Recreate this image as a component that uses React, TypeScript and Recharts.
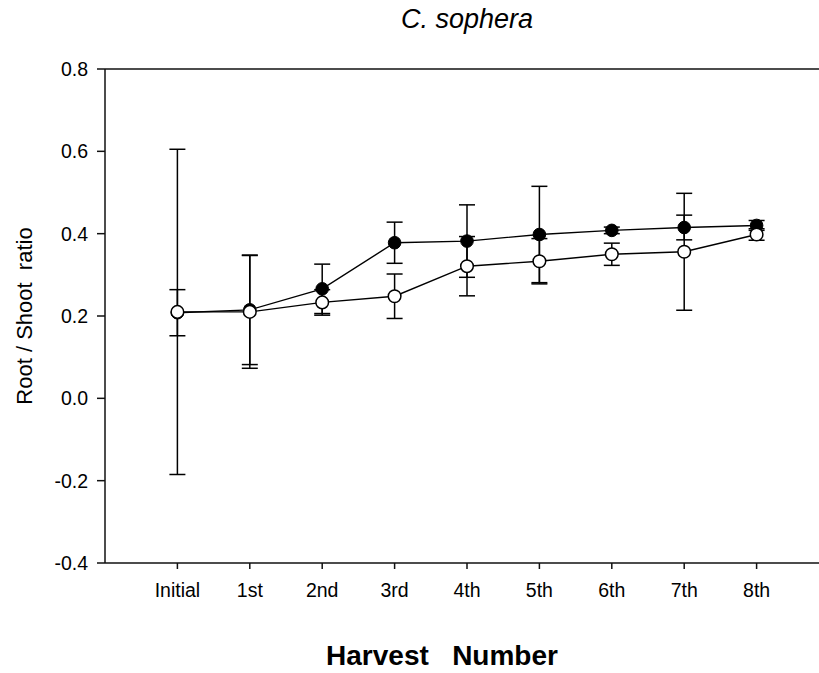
import {
  LineChart, Line, XAxis, YAxis, ErrorBar, ReferenceLine,
} from "recharts";

const harvestLabels = ["Initial", "1st", "2nd", "3rd", "4th", "5th", "6th", "7th", "8th"];
const filledMean = [0.208, 0.215, 0.266, 0.378, 0.382, 0.398, 0.408, 0.415, 0.42];
const filledErr = [0.056, 0.133, 0.06, 0.05, 0.088, 0.117, 0.008, 0.03, 0.012];
const openMean = [0.21, 0.21, 0.233, 0.248, 0.321, 0.333, 0.35, 0.356, 0.398];
const openErr = [0.395, 0.137, 0.031, 0.054, 0.072, 0.055, 0.027, 0.142, 0.014];
const yTicks = [-0.4, -0.2, 0, 0.2, 0.4, 0.6, 0.8];

const data = harvestLabels.map((h, i) => ({
  idx: i,
  harvest: h,
  filled: filledMean[i],
  filledErr: filledErr[i],
  open: openMean[i],
  openErr: openErr[i],
}));

const font = "Arial, 'Liberation Sans', sans-serif";
const ink = "#111";

// axis titles are drawn from the axis viewBox so they follow the plot area
function XTitle({ viewBox }: any) {
  const cx = viewBox.x + viewBox.width / 2 - 25;
  return (
    <text x={cx} y={viewBox.y + 102} textAnchor="middle"
      fontFamily={font} fontSize={28} fontWeight="bold" fill="#000">
      {"Harvest\u00a0\u00a0\u00a0Number"}
    </text>
  );
}

function YTitle({ viewBox }: any) {
  const cx = 24;
  const cy = viewBox.y + viewBox.height / 2;
  return (
    <text x={cx} y={cy} transform={`rotate(-90 ${cx} ${cy})`} textAnchor="middle"
      dominantBaseline="central" fontFamily={font} fontSize={22} fill="#000">
      {"Root / Shoot\u00a0\u00a0ratio"}
    </text>
  );
}

function ChartTitle({ viewBox }: any) {
  return (
    <text x={viewBox.x + viewBox.width / 2} y={28} textAnchor="middle"
      fontFamily={font} fontSize={27} fontStyle="italic" fill="#000">
      C. sophera
    </text>
  );
}

const tickStyle = { fontFamily: font, fontSize: 19.5, fill: "#000" };

export default function App() {
  return (
    <div style={{ position: "absolute", left: 0, top: 0, width: 819, height: 673, overflow: "hidden", background: "#fff" }}>
      <LineChart width={840} height={673} data={data} margin={{ top: 69, right: 11, left: 45, bottom: 80 }}>
        <XAxis
          dataKey="idx" type="number" domain={[-1, 9]} ticks={[0, 1, 2, 3, 4, 5, 6, 7, 8]}
          tickFormatter={(v) => harvestLabels[v]} tick={tickStyle}
          stroke={ink} strokeWidth={1.5} tickSize={6} tickMargin={14} height={30}
          label={<XTitle />}
        />
        <YAxis
          type="number" domain={[-0.4, 0.8]} ticks={yTicks} tickFormatter={(v) => v.toFixed(1)}
          tick={tickStyle} stroke={ink} strokeWidth={1.5} tickSize={8} tickMargin={9} width={60}
          label={<YTitle />}
        />
        <ReferenceLine y={0.8} stroke={ink} strokeWidth={1.5} ifOverflow="visible" label={<ChartTitle />} />
        <Line
          dataKey="filled" name="Filled" stroke="#000" strokeWidth={1.4} isAnimationActive={false}
          dot={{ r: 6.3, fill: "#000", stroke: "#000", strokeWidth: 1 }} activeDot={false}
        >
          <ErrorBar dataKey="filledErr" direction="y" width={8} stroke="#000" strokeWidth={1.5} />
        </Line>
        <Line
          dataKey="open" name="Open" stroke="#000" strokeWidth={1.4} isAnimationActive={false}
          dot={{ r: 6.3, fill: "#fff", stroke: "#000", strokeWidth: 1.5 }} activeDot={false}
        >
          <ErrorBar dataKey="openErr" direction="y" width={8} stroke="#000" strokeWidth={1.5} />
        </Line>
      </LineChart>
    </div>
  );
}
